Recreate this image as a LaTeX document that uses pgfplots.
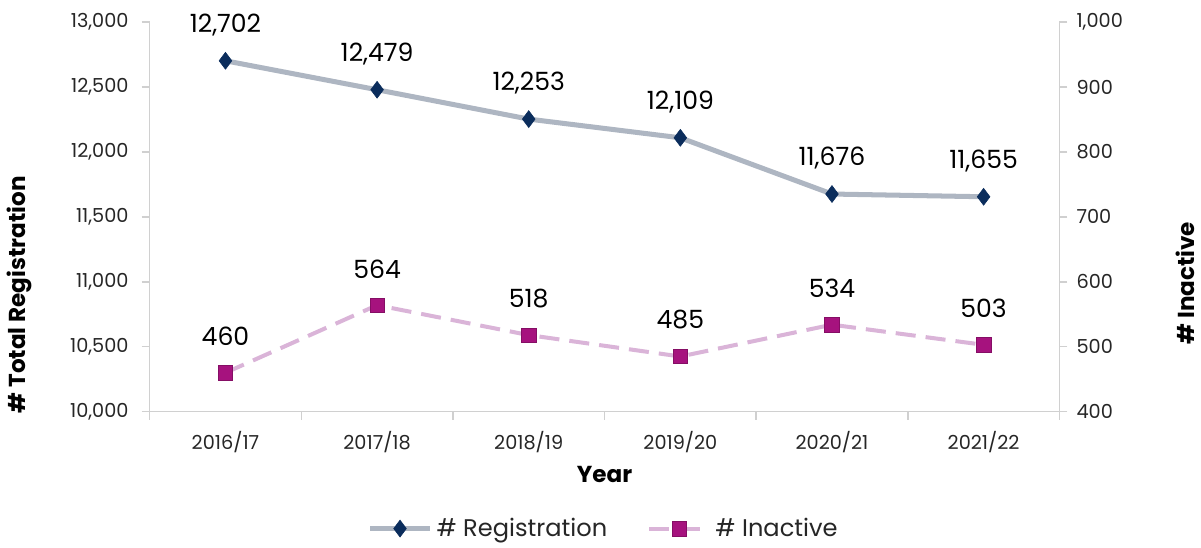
\documentclass[border=0pt]{standalone}
\usepackage{pgfplots}
\pgfplotsset{compat=1.18}
\usepackage{fontspec}
\setmainfont{Poppins}
\definecolor{axgray}{HTML}{D0D0D0}
\definecolor{reggray}{HTML}{AEB6C2}
\definecolor{regnavy}{HTML}{0B2D5C}
\definecolor{inpink}{HTML}{DAB4D8}
\definecolor{inmag}{HTML}{A6127E}
\definecolor{txt}{HTML}{262626}
\begin{document}
\begin{tikzpicture}
\pgfplotsset{
  common/.style={
    scale only axis, width=453pt, height=194pt,
    xmin=-0.5, xmax=5.5,
    scaled y ticks=false,
    /pgf/number format/assume math mode=true,
    /pgf/number format/1000 sep={,},
    yticklabel={\pgfmathprintnumber[fixed,precision=0,1000 sep={,}]{\tick}},
    ticklabel style={font=\fontsize{9.6}{11}\selectfont, text=txt},
    tick align=outside, major tick length=4pt, minor tick length=4pt,
    every tick/.style={axgray, line width=0.7pt},
    axis line style={axgray, line width=0.7pt},
    clip=false,
  }
}
\begin{axis}[common,
  axis y line*=left, axis x line*=bottom,
  ymin=10000, ymax=13000, ytick={10000,10500,...,13000},
  xtick={0,...,5}, xticklabels={2016/17,2017/18,2018/19,2019/20,2020/21,2021/22},
  major x tick style={draw=none},
  minor xtick={-0.5,0.5,...,5.5},
  yticklabel style={xshift=-3pt},
  xticklabel style={yshift=-2pt},
  xlabel={\textbf{Year}}, ylabel={\textbf{\# Total Registration}},
  label style={font=\fontsize{11.5}{13}\selectfont, text=black},
  xlabel style={at={(axis description cs:0.5,-0.16)}, anchor=center},
  ylabel style={at={(axis description cs:-0.1435,0.30)}, anchor=center},
  nodes near coords,
  nodes near coords style={font=\fontsize{12.5}{14}\selectfont, text=black, yshift=9pt,
    /pgf/number format/1000 sep={,}},
]
\path (axis description cs:0,1) ++(0pt,11pt);
\addplot[reggray, line width=2.5pt, mark=diamond*, mark size=4.2pt,
  mark options={solid, fill=regnavy, draw=regnavy, line width=0.3pt}]
  coordinates {(0,12702) (1,12479) (2,12253) (3,12109) (4,11676) (5,11655)};
\end{axis}
\begin{axis}[common,
  axis y line*=right, axis x line=none,
  ymin=400, ymax=1000, ytick={400,500,...,1000},
  yticklabel style={xshift=1pt},
  ylabel={\textbf{\# Inactive}},
  label style={font=\fontsize{11.5}{13}\selectfont, text=black},
  ylabel style={at={(axis description cs:1.138,0.33)}, anchor=center},
  nodes near coords,
  nodes near coords style={font=\fontsize{12.5}{14}\selectfont, text=black, yshift=10pt,
    /pgf/number format/1000 sep={,}},
  legend style={at={(0.5,-0.30)}, anchor=center, draw=none, legend columns=2,
    font=\fontsize{12}{14}\selectfont, text=txt,
    /tikz/every even column/.append style={column sep=18pt}},
  legend image code/.code={
    \draw[#1] (0cm,0cm) -- (1.05cm,0cm);
    \draw[#1, mark repeat=2, mark phase=2] plot coordinates {(0cm,0cm) (0.525cm,0cm) (1.05cm,0cm)};
  },
]
\addlegendimage{reggray, line width=2.5pt, mark=diamond*, mark size=4.2pt,
  mark options={solid, fill=regnavy, draw=regnavy, line width=0.3pt}}
\addlegendentry{\# Registration}
\addplot[inpink, line width=2pt, dash pattern=on 10pt off 5pt, mark=square*, mark size=3.6pt,
  mark options={solid, fill=inmag, draw=inmag!80!black, line width=0.3pt}]
  coordinates {(0,460) (1,564) (2,518) (3,485) (4,534) (5,503)};
\addlegendentry{\# Inactive}
\end{axis}
\end{tikzpicture}
\end{document}
